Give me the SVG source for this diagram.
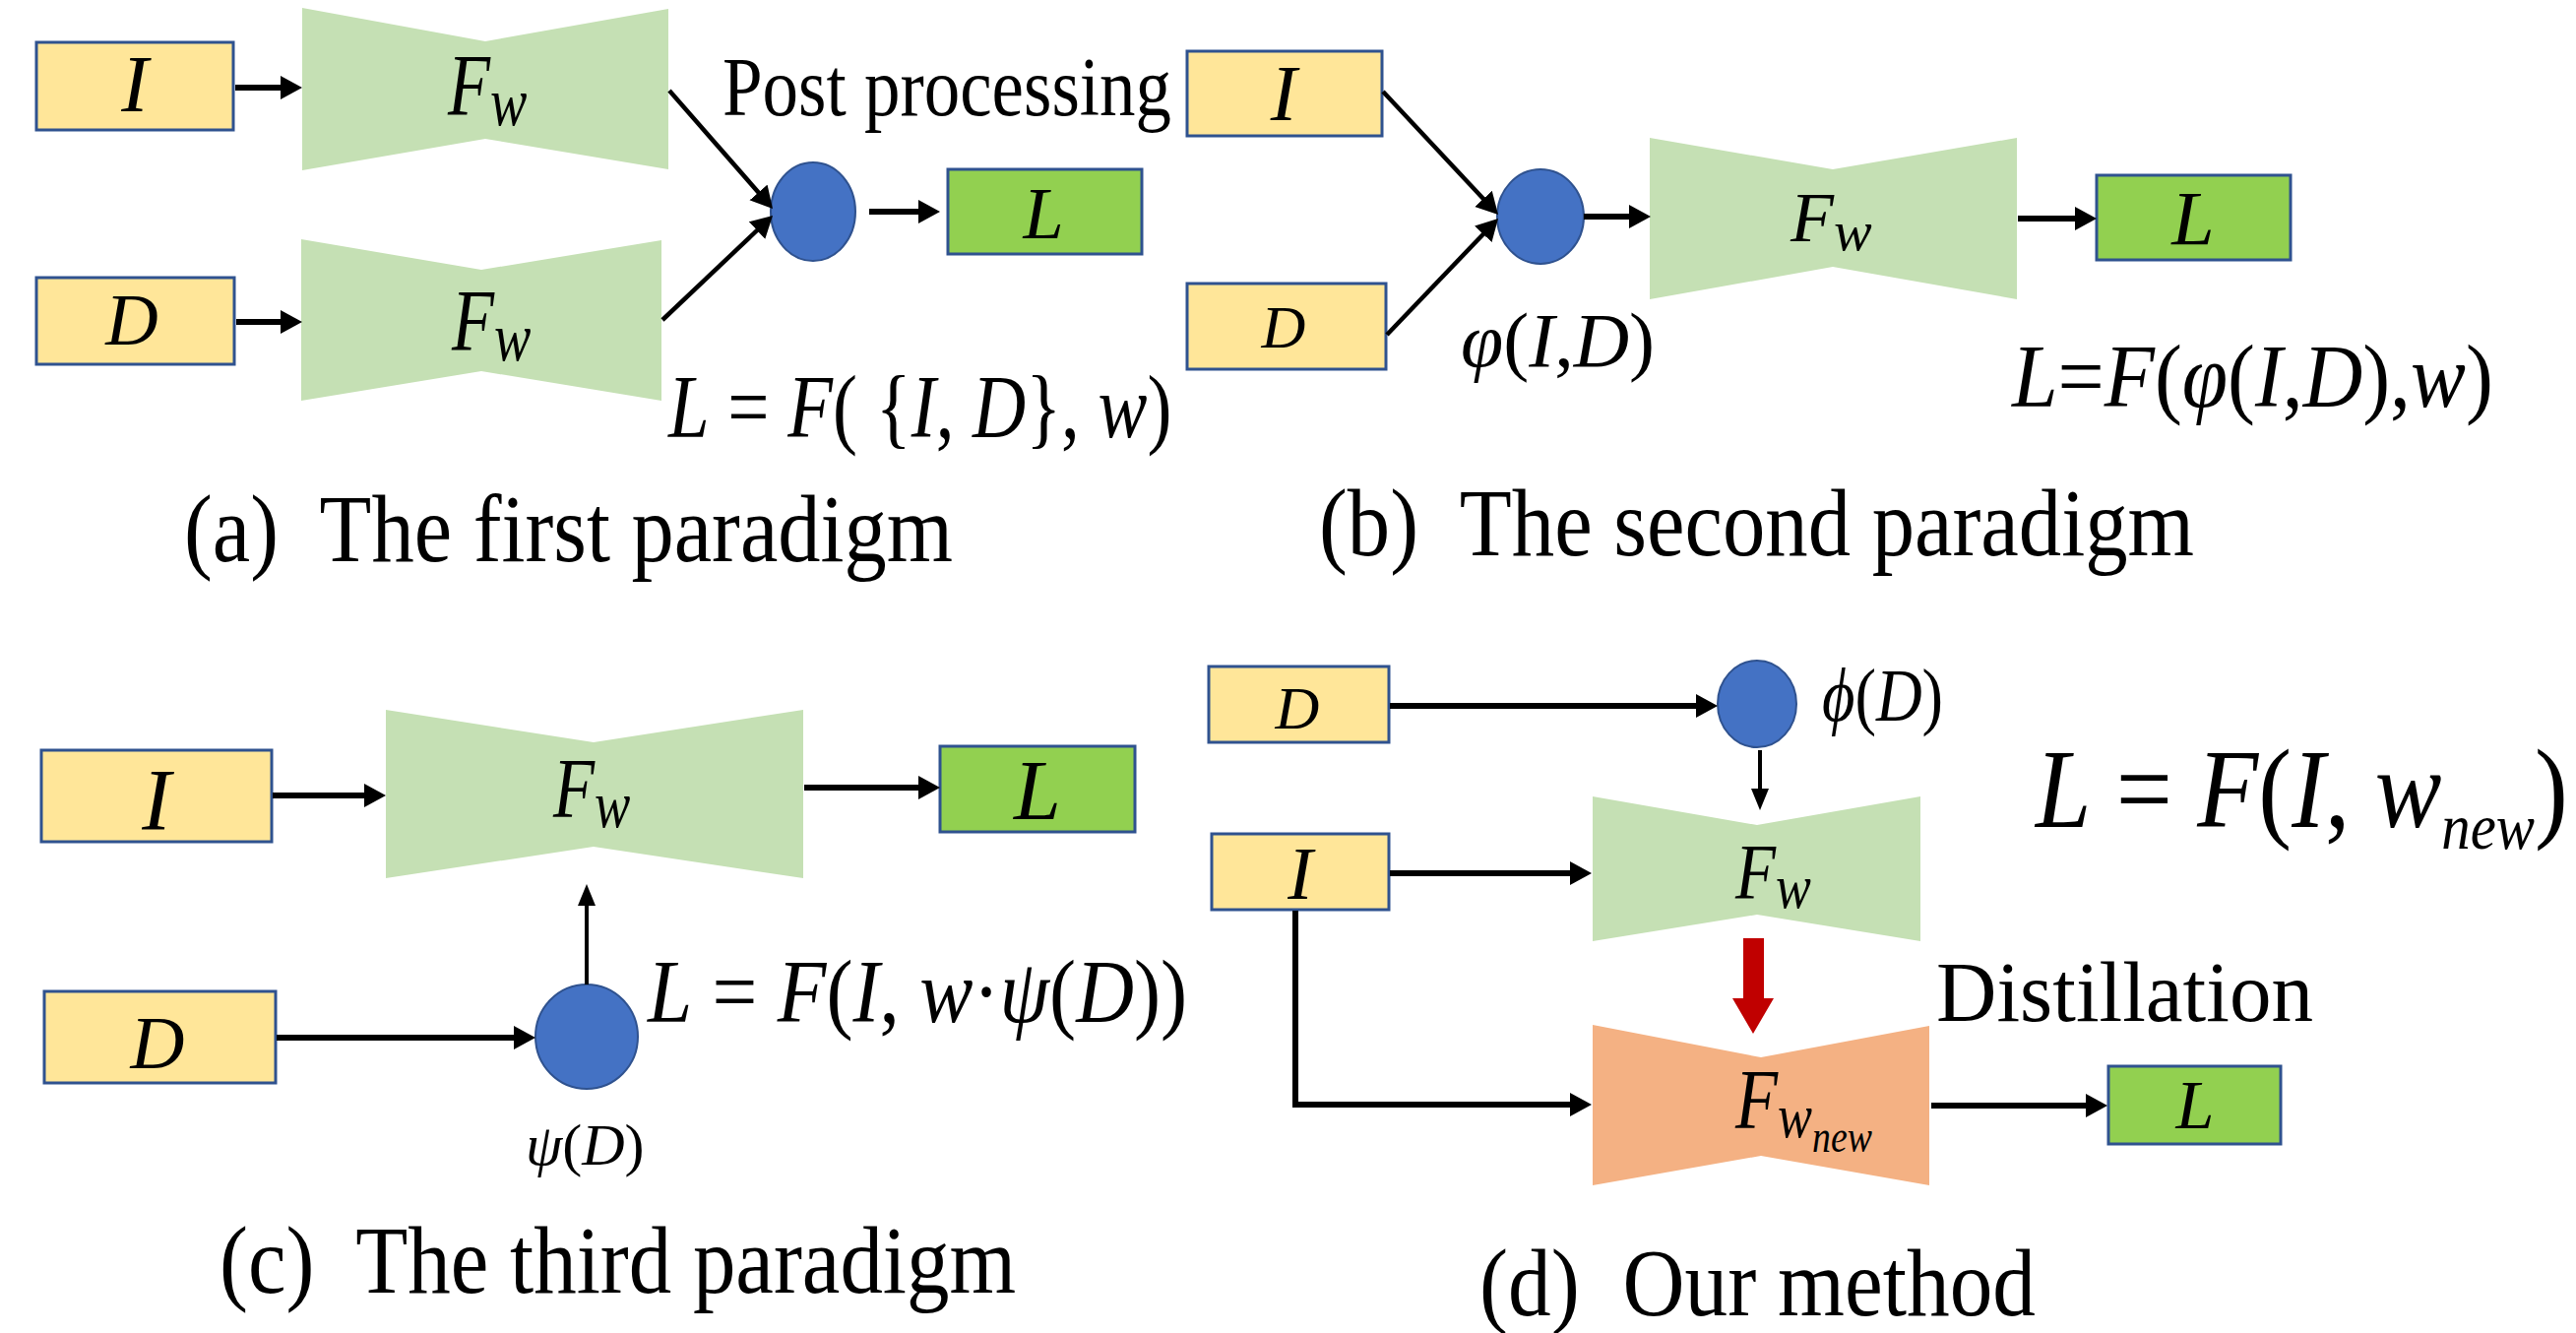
<svg xmlns="http://www.w3.org/2000/svg" width="2617" height="1354" viewBox="0 0 2617 1354">
<style>
.by{fill:#FFE699;stroke:#2F528F;stroke-width:3}
.bg{fill:#92D050;stroke:#2F528F;stroke-width:3}
.bw{fill:#C5E0B4}
.bo{fill:#F4B183}
.dot{fill:#4472C4;stroke:#2F528F;stroke-width:2}
text{font-family:"Liberation Serif","Times New Roman",serif;fill:#000}
.i{font-style:italic}
.r{font-style:normal}
.c{text-anchor:middle}
.ln{stroke:#000;fill:none;stroke-width:6}
.ld{stroke:#000;fill:none;stroke-width:4.5}
.lt{stroke:#000;fill:none;stroke-width:4}
</style>
<defs>
<marker id="ah" markerUnits="userSpaceOnUse" markerWidth="24" markerHeight="26" refX="10" refY="12" orient="auto"><path d="M0,0 L22,12 L0,24 z" fill="#000"/></marker>
<marker id="at" markerUnits="userSpaceOnUse" markerWidth="24" markerHeight="20" refX="12" refY="9" orient="auto"><path d="M0,0 L22,9 L0,18 z" fill="#000"/></marker>
</defs>

<!-- (a) -->
<g id="a-I"><rect class="by" x="37" y="43" width="200" height="89"/><text class="i c" x="137" y="113" font-size="82">I</text></g>
<g id="a-D"><rect class="by" x="37" y="282" width="201" height="88"/><text class="i c" x="134" y="350" font-size="74">D</text></g>
<g id="a-Fw1"><polygon class="bw" points="307,8 493,42 679,9 679,172 493,141 307,173"/><text class="i" transform="translate(455,116) scale(0.8,1)" font-size="88">F<tspan font-size="70" dy="11">w</tspan></text></g>
<g id="a-Fw2"><polygon class="bw" points="306,243 489,274 672,244 672,407 489,377 306,407"/><text class="i" transform="translate(459,355) scale(0.8,1)" font-size="88">F<tspan font-size="70" dy="11">w</tspan></text></g>
<g id="a-post"><ellipse class="dot" cx="826" cy="215" rx="43" ry="50"/></g>
<g id="a-L"><rect class="bg" x="963" y="172" width="197" height="86"/><text class="i c" x="1060" y="242" font-size="74">L</text></g>
<g id="a-labels">
<text x="734" y="117" font-size="84" textLength="456" lengthAdjust="spacingAndGlyphs">Post processing</text>
<text transform="translate(679,444) scale(0.814,1)" font-size="92"><tspan class="i">L</tspan> = <tspan class="i">F</tspan>( {<tspan class="i">I</tspan>, <tspan class="i">D</tspan>}, <tspan class="i">w</tspan>)</text>
<text x="187" y="570" font-size="98" textLength="781" lengthAdjust="spacingAndGlyphs" xml:space="preserve">(a)  The first paradigm</text>
</g>

<!-- (b) -->
<g id="b-I"><rect class="by" x="1206" y="52" width="198" height="86"/><text class="i c" x="1304" y="122" font-size="80">I</text></g>
<g id="b-D"><rect class="by" x="1206" y="288" width="202" height="87"/><text class="i c" x="1304" y="353" font-size="62">D</text></g>
<g id="b-phi"><ellipse class="dot" cx="1565" cy="220" rx="44" ry="48"/><text class="i" transform="translate(1484,372)" font-size="78">φ<tspan class="r">(</tspan>I<tspan class="r">,</tspan>D<tspan class="r">)</tspan></text></g>
<g id="b-Fw"><polygon class="bw" points="1676,140 1862,172 2049,140 2049,304 1862,271 1676,304"/><text class="i" transform="translate(1819,245)" font-size="72">F<tspan font-size="58" dy="9">w</tspan></text></g>
<g id="b-L"><rect class="bg" x="2130" y="178" width="197" height="86"/><text class="i c" x="2228" y="248" font-size="78">L</text></g>
<g id="b-labels">
<text transform="translate(2044,413) scale(0.91,1)" font-size="92"><tspan class="i">L</tspan>=<tspan class="i">F</tspan>(<tspan class="i">φ</tspan>(<tspan class="i">I</tspan>,<tspan class="i">D</tspan>),<tspan class="i">w</tspan>)</text>
<text x="1340" y="564" font-size="98" textLength="889" lengthAdjust="spacingAndGlyphs" xml:space="preserve">(b)  The second paradigm</text>
</g>

<!-- (c) -->
<g id="c-I"><rect class="by" x="42" y="762" width="234" height="93"/><text class="i c" x="159" y="842" font-size="88">I</text></g>
<g id="c-D"><rect class="by" x="45" y="1007" width="235" height="93"/><text class="i c" x="160" y="1085" font-size="76">D</text></g>
<g id="c-Fw"><polygon class="bw" points="392,721 603,754 816,721 816,892 603,860 392,892"/><text class="i" transform="translate(562,830) scale(0.8,1)" font-size="86">F<tspan font-size="68" dy="10">w</tspan></text></g>
<g id="c-psi"><ellipse class="dot" cx="596" cy="1053" rx="52" ry="53"/><text class="i" transform="translate(534,1183)" font-size="60">ψ<tspan class="r">(</tspan>D<tspan class="r">)</tspan></text></g>
<g id="c-L"><rect class="bg" x="955" y="758" width="198" height="87"/><text class="i c" x="1054" y="832" font-size="86">L</text></g>
<g id="c-labels">
<text transform="translate(658,1038) scale(0.884,1)" font-size="92"><tspan class="i">L</tspan> = <tspan class="i">F</tspan>(<tspan class="i">I</tspan>, <tspan class="i">w</tspan>·<tspan class="i">ψ</tspan>(<tspan class="i">D</tspan>))</text>
<text x="223" y="1313" font-size="98" textLength="809" lengthAdjust="spacingAndGlyphs" xml:space="preserve">(c)  The third paradigm</text>
</g>

<!-- (d) -->
<g id="d-D"><rect class="by" x="1228" y="677" width="183" height="77"/><text class="i c" x="1318" y="740" font-size="62">D</text></g>
<g id="d-phi"><ellipse class="dot" cx="1785" cy="715" rx="40" ry="44"/><text class="i" transform="translate(1851,732) scale(0.85,1)" font-size="76">ϕ<tspan class="r">(</tspan>D<tspan class="r">)</tspan></text></g>
<g id="d-I"><rect class="by" x="1231" y="847" width="180" height="77"/><text class="i c" x="1321" y="913" font-size="76">I</text></g>
<g id="d-Fw"><polygon class="bw" points="1618,809 1785,838 1951,809 1951,956 1785,929 1618,956"/><text class="i" transform="translate(1763,913) scale(0.84,1)" font-size="80">F<tspan font-size="64" dy="9">w</tspan></text></g>
<g id="d-Fwnew"><polygon class="bo" points="1618,1041 1789,1074 1960,1042 1960,1204 1789,1174 1618,1204"/><text class="i" transform="translate(1763,1146) scale(0.82,1)" font-size="86">F<tspan font-size="64" dy="9">w</tspan><tspan font-size="46" dy="15">new</tspan></text></g>
<g id="d-L"><rect class="bg" x="2142" y="1083" width="175" height="79"/><text class="i c" x="2230" y="1146" font-size="70">L</text></g>
<g id="d-labels">
<text transform="translate(2068,840) scale(0.89,1)" font-size="114"><tspan class="i">L</tspan> = <tspan class="i">F</tspan>(<tspan class="i">I</tspan>, <tspan class="i">w</tspan><tspan class="i" font-size="66" dy="22">new</tspan><tspan dy="-22">)</tspan></text>
<text x="1967" y="1037" font-size="86" textLength="383" lengthAdjust="spacingAndGlyphs">Distillation</text>
<text x="1503" y="1336" font-size="98" textLength="565" lengthAdjust="spacingAndGlyphs" xml:space="preserve">(d)  Our method</text>
</g>

<g id="connectors">
<line class="ln" x1="239" y1="89" x2="295" y2="89" marker-end="url(#ah)"/>
<line class="ln" x1="240" y1="327" x2="295" y2="327" marker-end="url(#ah)"/>
<line class="ld" x1="680" y1="92" x2="777.1" y2="203" marker-end="url(#ah)"/>
<line class="ld" x1="673" y1="325" x2="776.3" y2="227.2" marker-end="url(#ah)"/>
<line class="ln" x1="883" y1="215" x2="943" y2="215" marker-end="url(#ah)"/>

<line class="ld" x1="1405" y1="93" x2="1513.8" y2="209.2" marker-end="url(#ah)"/>
<line class="ld" x1="1409" y1="340" x2="1513.7" y2="230.7" marker-end="url(#ah)"/>
<line class="ln" x1="1609" y1="220" x2="1665" y2="220" marker-end="url(#ah)"/>
<line class="ln" x1="2050" y1="222" x2="2118" y2="222" marker-end="url(#ah)"/>

<line class="ln" x1="277" y1="808" x2="380" y2="808" marker-end="url(#ah)"/>
<line class="ln" x1="817" y1="800" x2="943" y2="800" marker-end="url(#ah)"/>
<line class="ln" x1="281" y1="1054" x2="532" y2="1054" marker-end="url(#ah)"/>
<line class="lt" x1="596" y1="1000" x2="596" y2="908" marker-end="url(#at)"/>

<line class="ln" x1="1412" y1="717" x2="1733" y2="717" marker-end="url(#ah)"/>
<line class="lt" x1="1788" y1="762" x2="1788" y2="813" marker-end="url(#at)"/>
<line class="ln" x1="1412" y1="887" x2="1605" y2="887" marker-end="url(#ah)"/>
<path class="ln" d="M1316,925 V1122 H1605" marker-end="url(#ah)"/>
<line class="ln" x1="1962" y1="1123" x2="2129" y2="1123" marker-end="url(#ah)"/>
<polygon points="1771,953 1792,953 1792,1014 1802,1014 1781,1050 1760,1014 1771,1014" fill="#C00000"/>
</g>
</svg>
